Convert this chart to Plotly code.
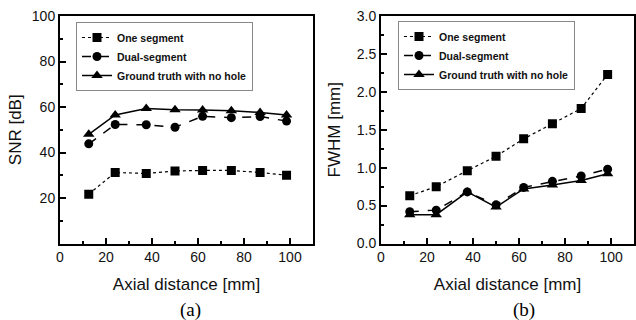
import plotly.graph_objects as go

# ---- data ----
axial_mm = [12.5, 24, 37.5, 50, 62, 74.5, 87, 98.5]

snr_one = [21.7, 31.2, 30.8, 31.9, 32.1, 32.1, 31.2, 30.0]
snr_dual = [43.8, 52.3, 52.2, 51.1, 55.9, 55.3, 55.8, 53.8]
snr_truth = [48.0, 56.5, 59.3, 58.8, 58.7, 58.4, 57.6, 56.5]

fwhm_one = [0.63, 0.75, 0.96, 1.15, 1.38, 1.58, 1.78, 2.23]
fwhm_dual = [0.42, 0.44, 0.68, 0.51, 0.74, 0.82, 0.89, 0.98]
fwhm_truth = [0.38, 0.38, 0.68, 0.48, 0.72, 0.77, 0.83, 0.92]

series_names = ["One segment", "Dual-segment", "Ground truth with no hole"]
panel_labels = ["(a)", "(b)"]

W, H = 636, 320

fig = go.Figure()

styles = [
    dict(dash="dot", width=1.2, symbol="square", size=9),
    dict(dash="dash", width=1.5, symbol="circle", size=9),
    dict(dash="solid", width=1.5, symbol="triangle-up", size=10),
]

def add_panel(ys, xaxis, yaxis, legend):
    for name, y, st in zip(series_names, ys, styles):
        fig.add_trace(go.Scatter(
            x=axial_mm, y=y, name=name, mode="lines+markers",
            xaxis=xaxis, yaxis=yaxis, legend=legend,
            line=dict(color="black", dash=st["dash"], width=st["width"]),
            marker=dict(symbol=st["symbol"], size=st["size"], color="black"),
        ))

add_panel([snr_one, snr_dual, snr_truth], "x", "y", "legend")
add_panel([fwhm_one, fwhm_dual, fwhm_truth], "x2", "y2", "legend2")

ytop = 1 - 16 / H
ybot = 1 - 243.5 / H

tick_font = dict(family="Liberation Sans, Arial, sans-serif", size=14, color="#111")
title_font = dict(family="Liberation Sans, Arial, sans-serif", size=17, color="#111")
legend_font = dict(family="Liberation Sans, Arial, sans-serif", size=10.5, color="#111", weight="bold")

common_x = dict(
    range=[0, 110], dtick=20, tick0=0, ticks="inside", ticklen=6, tickwidth=2,
    tickcolor="black", showline=True, linecolor="black", linewidth=2, mirror=True,
    showgrid=False, zeroline=False, tickfont=tick_font, automargin=False,
    minor=dict(ticks="inside", ticklen=3, tickwidth=2, dtick=10, tick0=0, tickcolor="black"),
    title=dict(text="Axial distance [mm]", font=title_font, standoff=14),
)

common_y = dict(
    ticks="inside", ticklen=6, tickwidth=2, tickcolor="black",
    showline=True, linecolor="black", linewidth=2, mirror=True,
    showgrid=False, zeroline=False, tickfont=tick_font, automargin=False,
)

fig.update_layout(
    width=W, height=H,
    margin=dict(l=0, r=0, t=0, b=0),
    paper_bgcolor="white", plot_bgcolor="white",
    xaxis=dict(domain=[60 / W, 313 / W], anchor="y", **common_x),
    xaxis2=dict(domain=[381 / W, 0.997], anchor="y2", **common_x),
    yaxis=dict(
        domain=[ybot, ytop], range=[0, 100], anchor="x",
        tickvals=[20, 40, 60, 80, 100],
        minor=dict(ticks="inside", ticklen=3, tickwidth=2, dtick=10, tick0=0, tickcolor="black"),
        title=dict(text="SNR [dB]", font=title_font, standoff=6),
        **common_y,
    ),
    yaxis2=dict(
        domain=[ybot, ytop], range=[0, 3.0], dtick=0.5, tick0=0, anchor="x2",
        tickformat=".1f",
        minor=dict(ticks="inside", ticklen=3, tickwidth=2, dtick=0.25, tick0=0, tickcolor="black"),
        title=dict(text="FWHM [mm]", font=title_font, standoff=12),
        **common_y,
    ),
    legend=dict(
        x=76 / W, y=1 - 22 / H, xanchor="left", yanchor="top",
        bordercolor="#888", borderwidth=1, bgcolor="white",
        font=legend_font, tracegroupgap=0, itemwidth=30,
    ),
    legend2=dict(
        x=398 / W, y=1 - 21 / H, xanchor="left", yanchor="top",
        bordercolor="#888", borderwidth=1, bgcolor="white",
        font=legend_font, tracegroupgap=0, itemwidth=30,
    ),
    showlegend=True,
)

for lbl, xc in zip(panel_labels, [190 / W, 524 / W]):
    fig.add_annotation(
        text=lbl, x=xc, y=1 - 310 / H, xref="paper", yref="paper",
        showarrow=False, xanchor="center", yanchor="middle",
        font=dict(family="Liberation Serif, Times New Roman, serif", size=19, color="black"),
    )

fig.write_html(
    "out.html",
    config={"displayModeBar": False},
    post_script="document.body.style.margin='0';document.body.style.overflow='hidden';",
)
